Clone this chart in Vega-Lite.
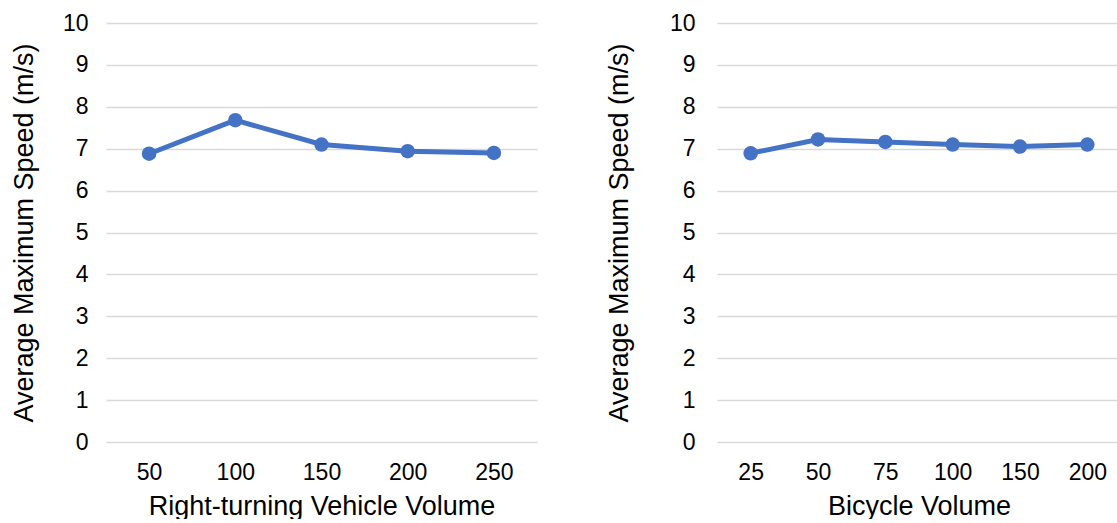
{
  "$schema": "https://vega.github.io/schema/vega-lite/v6.json",
  "padding": {"left": 10, "top": 12, "right": 0, "bottom": 0},
  "background": "white",
  "datasets": {
    "rightTurn": [
      {"volume": 50, "speed": 6.88},
      {"volume": 100, "speed": 7.68},
      {"volume": 150, "speed": 7.1},
      {"volume": 200, "speed": 6.94},
      {"volume": 250, "speed": 6.9}
    ],
    "bicycle": [
      {"volume": 25, "speed": 6.89},
      {"volume": 50, "speed": 7.22},
      {"volume": 75, "speed": 7.16},
      {"volume": 100, "speed": 7.1},
      {"volume": 150, "speed": 7.05},
      {"volume": 200, "speed": 7.1}
    ]
  },
  "config": {
    "font": "Liberation Sans",
    "view": {"stroke": null},
    "axis": {
      "domain": false,
      "ticks": false,
      "labelFontSize": 23,
      "labelColor": "#000000",
      "titleFontSize": 27,
      "titleFontWeight": "normal",
      "titleColor": "#000000",
      "gridColor": "#d9d9d9",
      "gridWidth": 1.5
    },
    "concat": {"spacing": 68}
  },
  "hconcat": [
    {
      "width": 431,
      "height": 419,
      "data": {"name": "rightTurn"},
      "encoding": {
        "x": {
          "field": "volume",
          "type": "ordinal",
          "scale": {"type": "point", "padding": 0.5},
          "axis": {"title": "Right-turning Vehicle Volume", "labelAngle": 0, "grid": false, "labelPadding": 19, "titlePadding": 9}
        },
        "y": {
          "field": "speed",
          "type": "quantitative",
          "scale": {"domain": [0, 10]},
          "axis": {"title": "Average Maximum Speed (m/s)", "values": [0, 1, 2, 3, 4, 5, 6, 7, 8, 9, 10], "labelPadding": 18, "titlePadding": 24}
        }
      },
      "layer": [
        {"mark": {"type": "line", "color": "#4472C4", "strokeWidth": 5}},
        {"mark": {"type": "point", "filled": true, "opacity": 1, "size": 210, "color": "#4472C4"}}
      ]
    },
    {
      "width": 404,
      "height": 419,
      "data": {"name": "bicycle"},
      "encoding": {
        "x": {
          "field": "volume",
          "type": "ordinal",
          "scale": {"type": "point", "padding": 0.5},
          "axis": {"title": "Bicycle Volume", "labelAngle": 0, "grid": false, "labelPadding": 19, "titlePadding": 9}
        },
        "y": {
          "field": "speed",
          "type": "quantitative",
          "scale": {"domain": [0, 10]},
          "axis": {"title": "Average Maximum Speed (m/s)", "values": [0, 1, 2, 3, 4, 5, 6, 7, 8, 9, 10], "labelPadding": 22, "titlePadding": 36}
        }
      },
      "layer": [
        {"mark": {"type": "line", "color": "#4472C4", "strokeWidth": 5}},
        {"mark": {"type": "point", "filled": true, "opacity": 1, "size": 210, "color": "#4472C4"}}
      ]
    }
  ]
}
